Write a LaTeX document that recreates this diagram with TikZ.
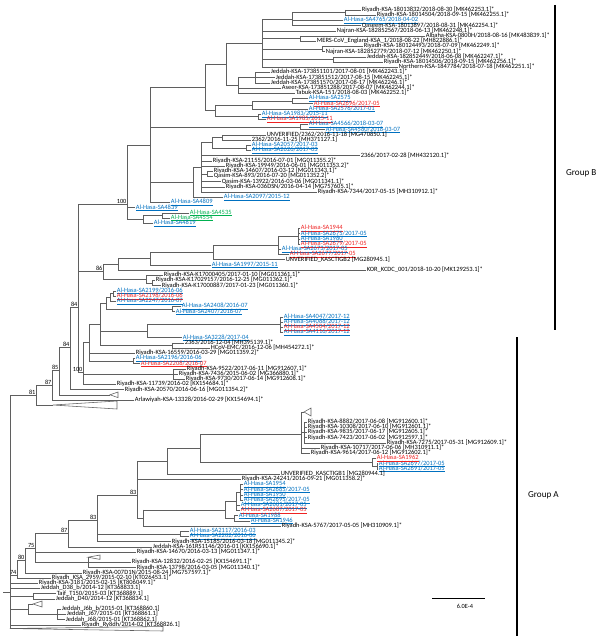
\documentclass[tikz,border=0pt]{standalone}
\usepackage{fontspec}
\setmainfont{Carlito}
\usepackage{tikz}
\usepackage{xcolor}
\definecolor{treegray}{RGB}{95,95,95}
\definecolor{hasablue}{RGB}{0,112,192}
\definecolor{hasared}{RGB}{238,34,34}
\definecolor{hasagreen}{RGB}{0,176,80}

\tikzset{
  branch/.style={draw=treegray,line width=0.8pt},
  lab/.style={anchor=west,inner xsep=1pt,inner ysep=0pt,text height=5.6pt,text depth=1.4pt,
    text=black,font=\fontsize{9.2}{9}\selectfont},
  ahblue/.style={lab,text=hasablue},
  ahred/.style={lab,text=hasared},
  ahgreen/.style={lab,text=hasagreen},
  boot/.style={anchor=south east,inner sep=0.6pt,font=\fontsize{9}{9}\selectfont},
  groupbar/.style={draw=black,line width=2.4pt},
  grouplab/.style={anchor=west,inner sep=0pt,font=\fontsize{13}{14}\selectfont}
}

% vertical bar of a clade: x, y top, y bottom
\newcommand{\vbr}[3]{\draw[branch] (#1,#2) -- (#1,#3);}
% horizontal branch: parent x, child x, y
\newcommand{\hbr}[3]{\draw[branch] (#1,#3) -- (#2,#3);}
% leaf: name, parent x, tip x, y, style, text
\newcommand{\leaf}[6]{\node[#5] (#1) at (#3,#4) {#6}; \draw[branch] (#2,#4) -- (#1.west);}
\newcommand{\hasa}[6]{\node[#5] (#1) at (#3,#4) {\underline{#6}}; \draw[branch] (#2,#4) -- (#1.west);}

\begin{document}
\begin{tikzpicture}[x=0.05cm,y=-0.05cm]
  \useasboundingbox (0,0) rectangle (600,638);

  % --- Group B: 2018 lineage ---
  \vbr{345}{10}{15.2}
  \leaf{r1}{345}{361}{10}{lab}{Riyadh-KSA-18013832/2018-08-30 [MK462253.1]*}
  \leaf{r2}{345}{376}{15.2}{lab}{Riyadh-KSA-18014504/2018-09-15 [MK462255.1]*}
  \vbr{292}{12.6}{25.6}
  \hbr{292}{345}{12.6}
  \hasa{r3}{292}{343}{20.4}{ahblue}{Al-Hasa-SA4765/2018-04-02}
  \leaf{r4}{292}{361}{25.6}{lab}{Qaseem-KSA-18013897/2018-08-31 [MK462254.1]*}
  \vbr{300}{36}{41.2}
  \leaf{r6}{300}{425}{36}{lab}{Albaha-KSA-0800H/2018-08-16 [MK483839.1]*}
  \leaf{r7}{300}{316}{41.2}{lab}{MERS-CoV\_England-KSA\_1/2018-08-22 [MH822886.1]*}
  \vbr{322}{46.4}{51.6}
  \leaf{r8}{322}{363}{46.4}{lab}{Riyadh-KSA-180124493/2018-07-09 [MK462249.1]*}
  \leaf{r9}{322}{325}{51.6}{lab}{Najran-KSA-182852779/2018-07-12 [MK462250.1]*}
  \vbr{333}{56.8}{62}
  \leaf{r10}{333}{366}{56.8}{lab}{Jeddah-KSA-182852449/2018-06-08 [MK462247.1]*}
  \leaf{r11}{333}{383}{62}{lab}{Riyadh-KSA-18014506/2018-09-15 [MK462256.1]*}
  \vbr{262}{19.1}{67.2}
  \hbr{262}{292}{19.1}
  \leaf{r5}{262}{336}{30.8}{lab}{Najran-KSA-182852567/2018-06-13 [MK462248.1]*}
  \hbr{262}{300}{38.6}
  \hbr{262}{322}{49}
  \hbr{262}{333}{59.4}
  \leaf{r12}{262}{398}{67.2}{lab}{Northern-KSA-1847784/2018-07-18 [MK462251.1]*}

  % --- Jeddah 2017 ---
  \vbr{255}{72.4}{82.8}
  \leaf{r13}{255}{270}{72.4}{lab}{Jeddah-KSA-173851101/2017-08-01 [MK462243.1]*}
  \leaf{r14}{255}{275}{77.6}{lab}{Jeddah-KSA-173851512/2017-08-15 [MK462245.1]*}
  \leaf{r15}{255}{270}{82.8}{lab}{Jeddah-KSA-173851570/2017-08-17 [MK462246.1]*}
  \vbr{238}{77.6}{93.2}
  \hbr{238}{255}{77.6}
  \leaf{r16}{238}{281}{88}{lab}{Aseer-KSA-173851288/2017-08-07 [MK462244.1]*}
  \leaf{r17}{238}{295}{93.2}{lab}{Tabuk-KSA-151/2018-08-03 [MK462252.1]*}
  \vbr{226}{43}{85}
  \hbr{226}{262}{43}
  \hbr{226}{238}{85}

  % --- Al-Hasa 2015-2017 ---
  \vbr{292}{98.4}{103.6}
  \hasa{r18}{292}{308}{98.4}{ahblue}{Al-Hasa-SA2575}
  \hasa{r19}{292}{313}{103.6}{ahred}{Al-Hasa-SA2696/2017-05}
  \vbr{252}{101}{108.8}
  \hbr{252}{292}{101}
  \hasa{r20}{252}{308}{108.8}{ahblue}{Al-Hasa-SA2576/2017-01}
  \vbr{258}{114}{119.2}
  \hasa{r21}{258}{261}{114}{ahblue}{Al-Hasa-SA1983/2015-11}
  \hasa{r22}{258}{266}{119.2}{ahred}{Al-Hasa-SA1985/2015-11}
  \vbr{215}{104.9}{116.6}
  \hbr{215}{252}{104.9}
  \hbr{215}{258}{116.6}
  \vbr{205}{64}{110.75}
  \hbr{205}{226}{64}
  \hbr{205}{215}{110.75}

  % --- Al-Hasa 2018 ---
  \vbr{300}{124.4}{129.6}
  \hasa{r23}{300}{308}{124.4}{ahblue}{Al-Hasa-SA4566/2018-03-07}
  \hasa{r24}{300}{325}{129.6}{ahblue}{Al-Hasa-SA4580/2018-03-07}

  % --- 2016 lineage ---
  \vbr{222}{134.8}{140}
  \leaf{r25}{222}{266}{134.8}{lab}{UNVERIFIED/2362/2016-11-18 [MG470850.1]}
  \leaf{r26}{222}{251}{140}{lab}{2362/2016-11-25 [MH371127.1]}
  \vbr{246}{145.2}{150.4}
  \hasa{r27}{246}{251}{145.2}{ahblue}{Al-Hasa-SA2057/2017-03}
  \hasa{r28}{246}{251}{150.4}{ahblue}{Al-Hasa-SA2626/2017-03}
  \vbr{212}{137.4}{147.8}
  \hbr{212}{222}{137.4}
  \hbr{212}{246}{147.8}
  \vbr{207}{171.2}{176.4}
  \leaf{r32}{207}{213}{171.2}{lab}{Riyadh-KSA-14607/2016-03-12 [MG011343.1]*}
  \leaf{r33}{207}{213}{176.4}{lab}{Qasim-KSA-893/2016-07-20 [MG011352.2]*}
  \vbr{201}{142.6}{192}
  \hbr{201}{212}{142.6}
  \leaf{r29}{201}{360}{155.6}{lab}{2366/2017-02-28 [MH432120.1]*}
  \leaf{r30}{201}{212}{160.8}{lab}{Riyadh-KSA-21155/2016-07-01 [MG011355.2]*}
  \leaf{r31}{201}{225}{166}{lab}{Riyadh-KSA-19949/2016-06-01 [MG011353.2]*}
  \hbr{201}{207}{173.8}
  \leaf{r34}{201}{221}{181.6}{lab}{Qasim-KSA-13922/2016-03-06 [MG011341.1]*}
  \leaf{r35}{201}{225}{186.8}{lab}{Riyadh-KSA-036DSN/2016-04-14 [MG757605.1]*}
  \leaf{r36}{201}{317}{192}{lab}{Riyadh-KSA-7344/2017-05-15 [MH310912.1]*}
  \vbr{193}{167}{197.2}
  \hbr{193}{201}{167}
  \hasa{r37}{193}{223}{197.2}{ahblue}{Al-Hasa-SA2097/2015-12}
  \vbr{150}{87}{202.4}
  \hbr{150}{205}{87}
  \hbr{150}{300}{127}
  \hbr{150}{193}{182}
  \hasa{r38}{150}{170}{202.4}{ahblue}{Al-Hasa-SA4809}

  % --- Al-Hasa SA48xx ---
  \vbr{162}{212.8}{218}
  \hasa{r40}{162}{189}{212.8}{ahgreen}{Al-Hasa-SA4535}
  \hasa{r41}{162}{170}{218}{ahgreen}{Al-Hasa-SA4554}
  \vbr{143}{215.4}{223.2}
  \hbr{143}{162}{215.4}
  \hasa{r42}{143}{153}{223.2}{ahblue}{Al-Hasa-SA4819}
  \vbr{127}{145}{219.3}
  \hbr{127}{150}{145}
  \hasa{r39}{127}{135}{207.6}{ahblue}{Al-Hasa-SA4839}
  \hbr{127}{143}{219.3}

  % --- clade 86 ---
  \vbr{298}{228.4}{244}
  \hasa{r43}{298}{300}{228.4}{ahred}{Al-Hasa-SA1944}
  \hasa{r44}{298}{300}{233.6}{ahblue}{Al-Hasa-SA2675/2017-05}
  \hasa{r45}{298}{300}{238.8}{ahblue}{Al-Hasa-SA1980}
  \hasa{r46}{298}{300}{244}{ahred}{Al-Hasa-SA2679/2017-05}
  \vbr{278}{236.2}{254.4}
  \hbr{278}{298}{236.2}
  \hasa{r47}{278}{281}{249.2}{ahblue}{Al-Hasa-SA2673/2017-05}
  \hasa{r48}{278}{289}{254.4}{ahred}{Al-Hasa-SA2677/2017-05}
  \vbr{213}{245}{259.6}
  \hbr{213}{278}{245}
  \leaf{r49}{213}{285}{259.6}{lab}{UNVERIFIED\_KASCTIGB2 [MG280945.1]}
  \vbr{150}{252.3}{264.8}
  \hbr{150}{213}{252.3}
  \hasa{r50}{150}{211}{264.8}{ahblue}{Al-Hasa-SA1997/2015-11}
  \vbr{118}{258.5}{270}
  \hbr{118}{150}{258.5}
  \leaf{r51}{118}{366}{270}{lab}{KOR\_KCDC\_001/2018-10-20 [MK129253.1]*}
  \vbr{152}{280.4}{285.6}
  \leaf{r53}{152}{155}{280.4}{lab}{Riyadh-KSA-K17029157/2016-12-25 [MG011362.1]*}
  \leaf{r54}{152}{161}{285.6}{lab}{Riyadh-KSA-K17000887/2017-01-23 [MG011360.1]*}
  \vbr{146}{275.2}{283}
  \leaf{r52}{146}{163}{275.2}{lab}{Riyadh-KSA-K17000405/2017-01-10 [MG011361.1]*}
  \hbr{146}{152}{283}
  \vbr{103}{264.2}{279.1}
  \hbr{103}{118}{264.2}
  \hbr{103}{146}{279.1}

  % --- lower Group B ---
  \vbr{113}{290.8}{296}
  \hasa{r55}{113}{116}{290.8}{ahblue}{Al-Hasa-SA2199/2016-06}
  \hasa{r56}{113}{116}{296}{ahred}{Al-Hasa-SA2198/2016-06}
  \vbr{110}{293.4}{301.2}
  \hbr{110}{113}{293.4}
  \hasa{r57}{110}{116}{301.2}{ahblue}{Al-Hasa-SA2247/2016-07}
  \vbr{172}{306.4}{311.6}
  \hasa{r58}{172}{181}{306.4}{ahblue}{Al-Hasa-SA2408/2016-07}
  \hasa{r59}{172}{175}{311.6}{ahblue}{Al-Hasa-SA2407/2016-07}
  \vbr{106}{297.3}{309}
  \hbr{106}{110}{297.3}
  \hbr{106}{172}{309}
  \vbr{280}{316.8}{332.4}
  \hasa{r60}{280}{283}{316.8}{ahblue}{Al-Hasa-SA4047/2017-12}
  \hasa{r61}{280}{283}{322}{ahblue}{Al-Hasa-SA4088/2017-12}
  \hasa{r62}{280}{283}{327.2}{ahred}{Al-Hasa-SA4504/2017-12}
  \hasa{r63}{280}{283}{332.4}{ahblue}{Al-Hasa-SA4116/2017-12}
  \vbr{147}{324.6}{337.6}
  \hbr{147}{280}{324.6}
  \hasa{r64}{147}{182}{337.6}{ahblue}{Al-Hasa-SA3228/2017-04}
  \vbr{172}{342.8}{348}
  \leaf{r65}{172}{184}{342.8}{lab}{2363/2016-12-04 [MH395139.1]*}
  \leaf{r66}{172}{210}{348}{lab}{HCoV-EMC/2016-12-06 [MH454272.1]*}
  \vbr{100}{303.2}{345.4}
  \hbr{100}{106}{303.2}
  \hbr{100}{147}{331.1}
  \hbr{100}{172}{345.4}
  \vbr{133}{358.4}{363.6}
  \hasa{r68}{133}{135}{358.4}{ahblue}{Al-Hasa-SA2196/2016-06}
  \hasa{r69}{133}{140}{363.6}{ahred}{Al-Hasa-SA2208/2016-07}
  \vbr{89}{324.3}{361}
  \hbr{89}{100}{324.3}
  \leaf{r67}{89}{135}{353.2}{lab}{Riyadh-KSA-16559/2016-03-29 [MG011359.2]*}
  \hbr{89}{133}{361}
  \vbr{173}{368.8}{379.2}
  \leaf{r70}{173}{186}{368.8}{lab}{Riyadh-KSA-9522/2017-06-11 [MG912607.1]*}
  \leaf{r71}{173}{178}{374}{lab}{Riyadh-KSA-7436/2015-06-02 [MG366880.1]*}
  \leaf{r72}{173}{185}{379.2}{lab}{Riyadh-KSA-9730/2017-06-14 [MG912608.1]*}
  \vbr{83}{342.6}{384.4}
  \hbr{83}{89}{342.6}
  \hbr{83}{173}{374}
  \leaf{r73}{83}{116}{384.4}{lab}{Riyadh-KSA-11739/2016-02 [KX154684.1]*}

  % --- Group B backbone ---
  \vbr{78}{204}{372}
  \hbr{78}{127}{204}
  \hbr{78}{103}{271.6}
  \hbr{78}{83}{372}
  \vbr{70}{307}{389.6}
  \hbr{70}{78}{307}
  \leaf{r74}{70}{124}{389.6}{lab}{Riyadh-KSA-20570/2016-06-16 [MG011354.2]*}
  \vbr{59}{347}{394.8}
  \hbr{59}{70}{347}
  \hbr{59}{110}{394.8}
  \draw[branch] (110,394.8) -- (118,392) -- (118,397.6) -- cycle;
  \vbr{52}{370}{400}
  \hbr{52}{59}{370}
  \leaf{r76}{52}{134}{400}{lab}{Arlawiyah-KSA-13328/2016-02-29 [KX154694.1]*}
  \vbr{36}{385}{405}
  \hbr{36}{52}{385}
  \hbr{36}{53}{405}
  \draw[branch] (53,405) -- (117,401) -- (117,409) -- cycle;
  \hbr{10}{36}{395}

  % --- Group A: Riyadh 2017 ---
  \draw[branch] (304,412) -- (311,408) -- (311,416) -- cycle;
  \hbr{301}{304}{412}
  \vbr{304}{422}{442.8}
  \leaf{a1}{304}{307}{422}{lab}{Riyadh-KSA-8882/2017-06-08 [MG912600.1]*}
  \leaf{a2}{304}{307}{427.2}{lab}{Riyadh-KSA-10308/2017-06-10 [MG912601.1]*}
  \leaf{a3}{304}{307}{432.4}{lab}{Riyadh-KSA-9835/2017-06-17 [MG912605.1]*}
  \leaf{a4}{304}{307}{437.6}{lab}{Riyadh-KSA-7423/2017-06-02 [MG912597.1]*}
  \leaf{a5}{304}{386}{442.8}{lab}{Riyadh-KSA-7275/2017-05-31 [MG912609.1]*}
  \vbr{301}{412}{453.2}
  \hbr{301}{304}{432.4}
  \leaf{a6}{301}{320}{448}{lab}{Riyadh-KSA-10717/2017-06-06 [MH310911.1]*}
  \leaf{a7}{301}{310}{453.2}{lab}{Riyadh-KSA-9614/2017-06-12 [MG912602.1]*}
  \vbr{377}{463.6}{468.8}
  \hasa{a9}{377}{378}{463.6}{ahblue}{Al-Hasa-SA2697/2017-05}
  \hasa{a10}{377}{378}{468.8}{ahblue}{Al-Hasa-SA2691/2017-05}
  \vbr{372}{458.4}{466.2}
  \hasa{a8}{372}{376}{458.4}{ahred}{Al-Hasa-SA1962}
  \hbr{372}{377}{466.2}
  \vbr{200}{434}{462.3}
  \hbr{200}{301}{434}
  \hbr{200}{372}{462.3}
  \vbr{167}{448}{474}
  \hbr{167}{200}{448}
  \leaf{a11}{167}{280}{474}{lab}{UNVERIFIED\_KASCTIGB1 [MG280944.1]}

  % --- Group A: Al-Hasa 2017 ---
  \vbr{240}{484.4}{500}
  \hasa{a13}{240}{243}{484.4}{ahblue}{Al-Hasa-SA1954}
  \hasa{a14}{240}{243}{489.6}{ahblue}{Al-Hasa-SA2685/2017-05}
  \hasa{a15}{240}{243}{494.8}{ahblue}{Al-Hasa-SA1950}
  \hasa{a16}{240}{243}{500}{ahblue}{Al-Hasa-SA2695/2017-05}
  \vbr{236}{492.2}{510.4}
  \hbr{236}{240}{492.2}
  \hasa{a17}{236}{240}{505.2}{ahblue}{Al-Hasa-SA2681/2017-05}
  \hasa{a18}{236}{240}{510.4}{ahred}{Al-Hasa-SA2687/2017-05}
  \vbr{234}{515.6}{520.8}
  \hasa{a19}{234}{238}{515.6}{ahblue}{Al-Hasa-SA1988}
  \hasa{a20}{234}{250}{520.8}{ahblue}{Al-Hasa-SA1946}
  \vbr{225}{501.3}{518.2}
  \hbr{225}{236}{501.3}
  \hbr{225}{234}{518.2}
  \vbr{143}{509.8}{526}
  \hbr{143}{225}{509.8}
  \leaf{a21}{143}{281}{526}{lab}{Riyadh-KSA-5767/2017-05-05 [MH310909.1]*}
  \vbr{137}{461}{517.9}
  \hbr{137}{167}{461}
  \leaf{a12}{137}{241}{479.2}{lab}{Riyadh-KSA-24241/2016-09-21 [MG011358.2]*}
  \hbr{137}{143}{517.9}

  % --- Group A: ladder ---
  \vbr{180}{531.2}{536.4}
  \hasa{a22}{180}{189}{531.2}{ahblue}{Al-Hasa-SA2117/2016-03}
  \hasa{a23}{180}{189}{536.4}{ahblue}{Al-Hasa-SA2202/2016-06}
  \vbr{97}{495}{541.6}
  \hbr{97}{137}{495}
  \hbr{97}{180}{533.8}
  \leaf{a24}{97}{171}{541.6}{lab}{Riyadh-KSA-15185/2016-03-18 [MG011345.2]*}
  \vbr{68}{520}{546.8}
  \hbr{68}{97}{520}
  \leaf{a25}{68}{152}{546.8}{lab}{Jeddah-KSA-161RS1146/2016-01 [KX156690.1]*}
  \draw[branch] (88,557.2) -- (100,555) -- (100,559.4) -- cycle;
  \vbr{88}{557.2}{567.6}
  \leaf{a28}{88}{131}{562.4}{lab}{Riyadh-KSA-12832/2016-02-25 [KX154691.1]*}
  \leaf{a29}{88}{136}{567.6}{lab}{Riyadh-KSA-13798/2016-03-05 [MG011340.1]*}
  \vbr{35}{533}{562}
  \hbr{35}{68}{533}
  \leaf{a26}{35}{136}{552}{lab}{Riyadh-KSA-14670/2016-03-13 [MG011347.1]*}
  \hbr{35}{88}{562}
  \vbr{25}{548}{572.8}
  \hbr{25}{35}{548}
  \leaf{a30}{25}{82}{572.8}{lab}{Riyadh-KSA-007D1N/2015-08-24 [MG757597.1]*}
  \vbr{17}{560}{578}
  \hbr{17}{25}{560}
  \leaf{a31}{17}{51}{578}{lab}{Riyadh\_KSA\_2959/2015-02-10 [KT026453.1]*}
  \hbr{10}{17}{575}

  % --- basal sequences ---
  \leaf{a32}{10}{38}{583.2}{lab}{Riyadh-KSA-3181/2015-02-15 [KT806049.1]*}
  \leaf{a33}{10}{40}{588.4}{lab}{Jeddah\_D38\_b/2014-12 [KT368833.1]}
  \vbr{33}{593.6}{598.8}
  \leaf{a34}{33}{56}{593.6}{lab}{Taif\_T150/2015-03 [KT368889.1]}
  \leaf{a35}{33}{55}{598.8}{lab}{Jeddah\_D40/2014-12 [KT368834.1]}
  \hbr{10}{33}{596.2}
  \draw[branch] (33,604) -- (42,601) -- (42,607) -- cycle;
  \vbr{57}{609.2}{619.6}
  \leaf{a37}{57}{61}{609.2}{lab}{Jeddah\_J6b\_b/2015-01 [KT368860.1]}
  \leaf{a38}{57}{66}{614.4}{lab}{Jeddah\_J67/2015-01 [KT368861.1]}
  \leaf{a39}{57}{65}{619.6}{lab}{Jeddah\_J68/2015-01 [KT368862.1]}
  \vbr{28}{604}{614.4}
  \hbr{28}{33}{604}
  \hbr{28}{57}{614.4}
  \hbr{10}{28}{609.2}
  \leaf{a40}{10}{81}{624.8}{lab}{Riyadh\_Ry8dh/2014-02 [KT368826.1]}
  \draw[branch] (10,628.5) -- (163,626.5) -- (163,631) -- cycle;
  \vbr{10}{395}{628.5}
  \hbr{3}{10}{592}

  % --- bootstrap values ---
  \node[boot] (bs1) at (127,204) {100};
  \node[boot] (bs2) at (103,271.6) {86};
  \node[boot] (bs3) at (83,372) {100};
  \node[boot] (bs4) at (78,307) {84};
  \node[boot] (bs5) at (70,347) {84};
  \node[boot] (bs6) at (59,370) {85};
  \node[boot] (bs7) at (52,385) {87};
  \node[boot] (bs8) at (36,395) {81};
  \node[boot] (bs9) at (137,495) {83};
  \node[boot] (bs10) at (97,520) {83};
  \node[boot] (bs11) at (68,533) {87};
  \node[boot] (bs12) at (35,548) {75};
  \node[boot] (bs13) at (25,560) {80};
  \node[boot] (bs14) at (17,575) {74};

  % --- scale bar ---
  \draw[line width=0.9pt] (432,598) -- (485,598);
  \node[font=\fontsize{9}{9}\selectfont] (scale) at (465,606) {6.0E-4};

  % --- group bars ---
  \draw[groupbar] (555,5) -- (555,330);
  \node[grouplab] (grpB) at (566,173) {Group B};
  \draw[groupbar] (517,337) -- (517,636);
  \node[grouplab] (grpA) at (528,495) {Group A};
\end{tikzpicture}
\end{document}
